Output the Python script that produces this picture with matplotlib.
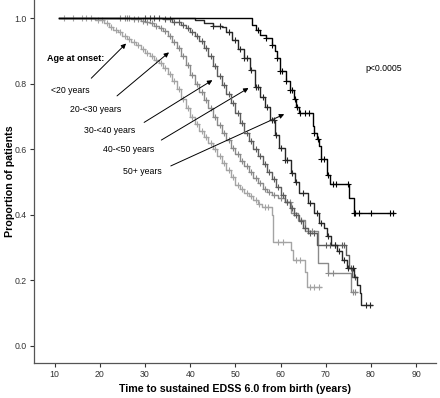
import numpy as np
import matplotlib
matplotlib.use("Agg")
import matplotlib.pyplot as plt

plt.rcParams['font.family'] = ['Liberation Sans', 'DejaVu Sans']

groups = ["<20 years", "20-<30 years", "30-<40 years", "40-<50 years", "50+ years"]
colors = ["#a4a4a4", "#8a8a8a", "#5c5c5c", "#262626", "#000000"]

# step knots (time from birth, proportion without EDSS 6.0)
t_lt20 = [11, 19, 21, 22, 23, 24, 25, 26, 27, 28, 29, 30, 31, 32, 33, 34, 35, 36, 37, 38, 39, 40,
          41, 42, 43, 44, 45, 46, 47, 48, 49, 50, 51, 52, 53, 54, 55, 55.8, 58, 58.4, 62.2, 62.7, 65.3, 65.8]
s_lt20 = [1.0, 0.995, 0.985, 0.975, 0.965, 0.957, 0.947, 0.937, 0.927, 0.917, 0.906, 0.895, 0.885, 0.874, 0.862, 0.848, 0.83, 0.81, 0.785, 0.755, 0.727, 0.70,
          0.677, 0.657, 0.637, 0.62, 0.6, 0.578, 0.557, 0.537, 0.515, 0.492, 0.478, 0.467, 0.456, 0.446, 0.432, 0.424, 0.40, 0.318, 0.292, 0.262, 0.226, 0.18]
end_lt20 = 69

t_20 = [11, 27, 29, 30, 31, 32, 33, 34, 35, 36, 37, 38, 39, 40, 41, 42, 43, 44, 45, 46, 47, 48, 49,
        50, 51, 52, 53, 54, 55, 56, 57, 58, 59.5, 61, 62.4, 63.8, 65.3, 68.2, 70.4, 75.5]
s_20 = [1.0, 0.997, 0.993, 0.99, 0.985, 0.978, 0.97, 0.96, 0.945, 0.928, 0.91, 0.885, 0.858, 0.828, 0.8, 0.775, 0.75, 0.725, 0.7, 0.675, 0.65, 0.628, 0.605,
        0.585, 0.565, 0.548, 0.53, 0.512, 0.496, 0.48, 0.468, 0.46, 0.45, 0.44, 0.405, 0.385, 0.35, 0.252, 0.221, 0.165]
end_20 = 77

t_30 = [11, 34, 36, 38, 39, 40, 41, 42, 43, 44, 45, 46, 47, 48, 49, 50, 51, 52, 53, 54, 55, 56,
        57, 58, 59, 60, 61, 62, 63, 64, 65, 66, 68.1, 74.5, 75.2, 75.9]
s_30 = [1.0, 0.997, 0.99, 0.98, 0.97, 0.958, 0.945, 0.93, 0.91, 0.885, 0.855, 0.825, 0.795, 0.768, 0.74, 0.71, 0.68, 0.65, 0.625, 0.6, 0.578, 0.555,
        0.532, 0.51, 0.485, 0.46, 0.44, 0.42, 0.40, 0.38, 0.36, 0.345, 0.307, 0.277, 0.236, 0.21]
end_30 = 76.8

t_40 = [11, 41, 43, 45, 47, 48, 49.2, 50.5, 51.8, 53.2, 54.3, 55.4, 56.5, 57.6, 58.7, 59.6, 60.9, 62.4, 63.2, 64.0,
        66.0, 67.5, 68.6, 69.7, 70.2, 71.2, 72.4, 73.6, 74.6, 76.3, 77.0, 77.5, 77.8]
s_40 = [1.0, 0.995, 0.985, 0.978, 0.972, 0.958, 0.935, 0.905, 0.878, 0.842, 0.79, 0.76, 0.73, 0.69, 0.645, 0.605, 0.567, 0.526, 0.5, 0.467,
        0.437, 0.406, 0.376, 0.36, 0.336, 0.308, 0.29, 0.263, 0.236, 0.211, 0.186, 0.16, 0.125]
end_40 = 80.3

t_50 = [11, 53.6, 54.5, 55.5, 56.8, 58.2, 58.8, 59.2, 59.8, 61.2, 62.0, 63.0, 63.5, 64.0, 67.1, 67.5, 68.0,
        68.6, 69.0, 70.2, 71.0, 75.2, 76.2]
s_50 = [1.0, 0.98, 0.965, 0.95, 0.94, 0.92, 0.90, 0.88, 0.84, 0.81, 0.78, 0.755, 0.73, 0.71, 0.67, 0.65, 0.63,
        0.61, 0.57, 0.52, 0.495, 0.45, 0.405]
end_50 = 85.1

# censored observations (+)
c_lt20 = [12, 14, 16, 17, 18, 19.5, 20.5, 21.5, 22.5, 23.5, 24.5, 25.5, 26.5, 27.5, 28.5, 29.5, 30.5, 31.5, 32.5, 33.5,
          34.5, 35.5, 36.5, 37.5, 38.5, 39.5, 40.5, 41.5, 42.5, 43.5, 44.5, 45.5, 46.5, 47.5, 48.5, 49.5, 50.5, 51.5,
          52.5, 53.5, 54.5, 55.2, 56.5, 57.2, 59.5, 60.5, 63.5, 64.2, 66.5, 67.5, 68.5]
c_20 = [24.5, 25.5, 26, 26.5, 27.5, 28.5, 29.5, 30.5, 31.5, 32.5, 33.5, 34.5, 35.5, 36.5, 37.5, 38.5, 39.5, 40.5, 41.5,
        42.5, 43.5, 44.5, 45.5, 46.5, 47.5, 48.5, 49.5, 50.5, 51.5, 52.5, 53.5, 54.5, 55.5, 56.5, 57.5, 58.5, 60, 61.5,
        62, 63, 64.5, 66, 67, 70.5, 71.5, 76, 76.4]
c_30 = [30, 31, 32, 33, 34.5, 35.5, 36.5, 37.5, 38.5, 39.5, 40.5, 41.5, 42.5, 43.5, 44.5, 45.5, 46.5, 47.5, 48.5, 49.5,
        50.5, 51.5, 52.5, 53.5, 54.5, 55.5, 56.5, 57.5, 58.5, 59.5, 60.5, 61.5, 62.5, 63.5, 64.5, 65.5, 66.5, 67.5,
        70, 71, 72, 73.5, 74, 75.5, 76.5]
c_40 = [45, 46.5, 48.5, 50, 51, 52, 52.5, 53.5, 54.5, 55, 56, 57, 58, 58.5, 59, 60, 61, 61.5, 62.5, 63.5, 65, 66.5,
        68, 69, 70.5, 72, 73, 74, 75, 76, 79, 79.8]
c_50 = [55.0, 56.8, 58.2, 59.2, 59.8, 60.3, 61.3, 62.0, 62.5, 63.2, 63.6, 64.2, 65.5, 66.2, 67.5, 68.3, 69.0, 69.5,
        70.5, 71.5, 72.3, 75.0, 76.3, 76.5, 77.3, 79.9, 84.2, 84.9]

curves = [
    (t_lt20, s_lt20, end_lt20, c_lt20),
    (t_20, s_20, end_20, c_20),
    (t_30, s_30, end_30, c_30),
    (t_40, s_40, end_40, c_40),
    (t_50, s_50, end_50, c_50),
]

fig = plt.figure(figsize=(4.4, 3.98), dpi=100)
ax = fig.add_axes([0.077, 0.088, 0.915, 0.912])

for k, (t, s, end, cens) in enumerate(curves):
    tt = np.append(t, end)
    ss = np.append(s, s[-1])
    ax.step(tt, ss, where="post", color=colors[k], lw=1.0, zorder=2 + k)
    ct = np.array(cens)
    idx = np.searchsorted(t, ct, side="right") - 1
    cs = np.array(s)[idx]
    ax.plot(ct, cs, ls="none", marker="+", ms=4, mew=0.8, color=colors[k], zorder=2 + k)

ax.set_xlim(5.4, 94.5)
ax.set_ylim(-0.053, 1.056)
ax.set_xticks(range(10, 100, 10))
ax.set_yticks([0.0, 0.2, 0.4, 0.6, 0.8, 1.0])
ax.set_yticklabels([f"{v:.1f}" for v in ax.get_yticks()])
ax.tick_params(direction="out", length=3, width=0.8, labelsize=6.3, colors="#333333", pad=2)
for side in ["top", "right"]:
    ax.spines[side].set_visible(False)
for side in ["left", "bottom"]:
    ax.spines[side].set_color("#555555")
    ax.spines[side].set_linewidth(0.9)

ax.set_xlabel("Time to sustained EDSS 6.0 from birth (years)", fontsize=7.7, fontweight="bold", labelpad=4)
ax.set_ylabel("Proportion of patients", fontsize=7.7, fontweight="bold")
ax.yaxis.set_label_coords(-0.046, 0.5)

ax.text(8.4, 0.878, "Age at onset:", fontsize=6.5, fontweight="bold", va="center")
ax.text(78.7, 0.847, "p<0.0005", fontsize=6.3, va="center")

label_pos = [(9.1, 0.78), (13.4, 0.722), (16.6, 0.656), (20.6, 0.598), (25.2, 0.533)]
arrows = [((18.1, 0.817), (25.8, 0.923)),
          ((23.8, 0.763), (35.3, 0.896)),
          ((29.8, 0.682), (44.9, 0.811)),
          ((33.6, 0.628), (52.9, 0.787)),
          ((35.7, 0.549), (60.8, 0.707))]
for name, (lx, ly), (tail, head) in zip(groups, label_pos, arrows):
    ax.text(lx, ly, name, fontsize=6.3, va="center")
    ax.annotate("", xy=head, xytext=tail,
                arrowprops=dict(arrowstyle="-|>", color="black", lw=0.7,
                                mutation_scale=7, shrinkA=0, shrinkB=0))

fig.savefig("out.png", dpi=100)
